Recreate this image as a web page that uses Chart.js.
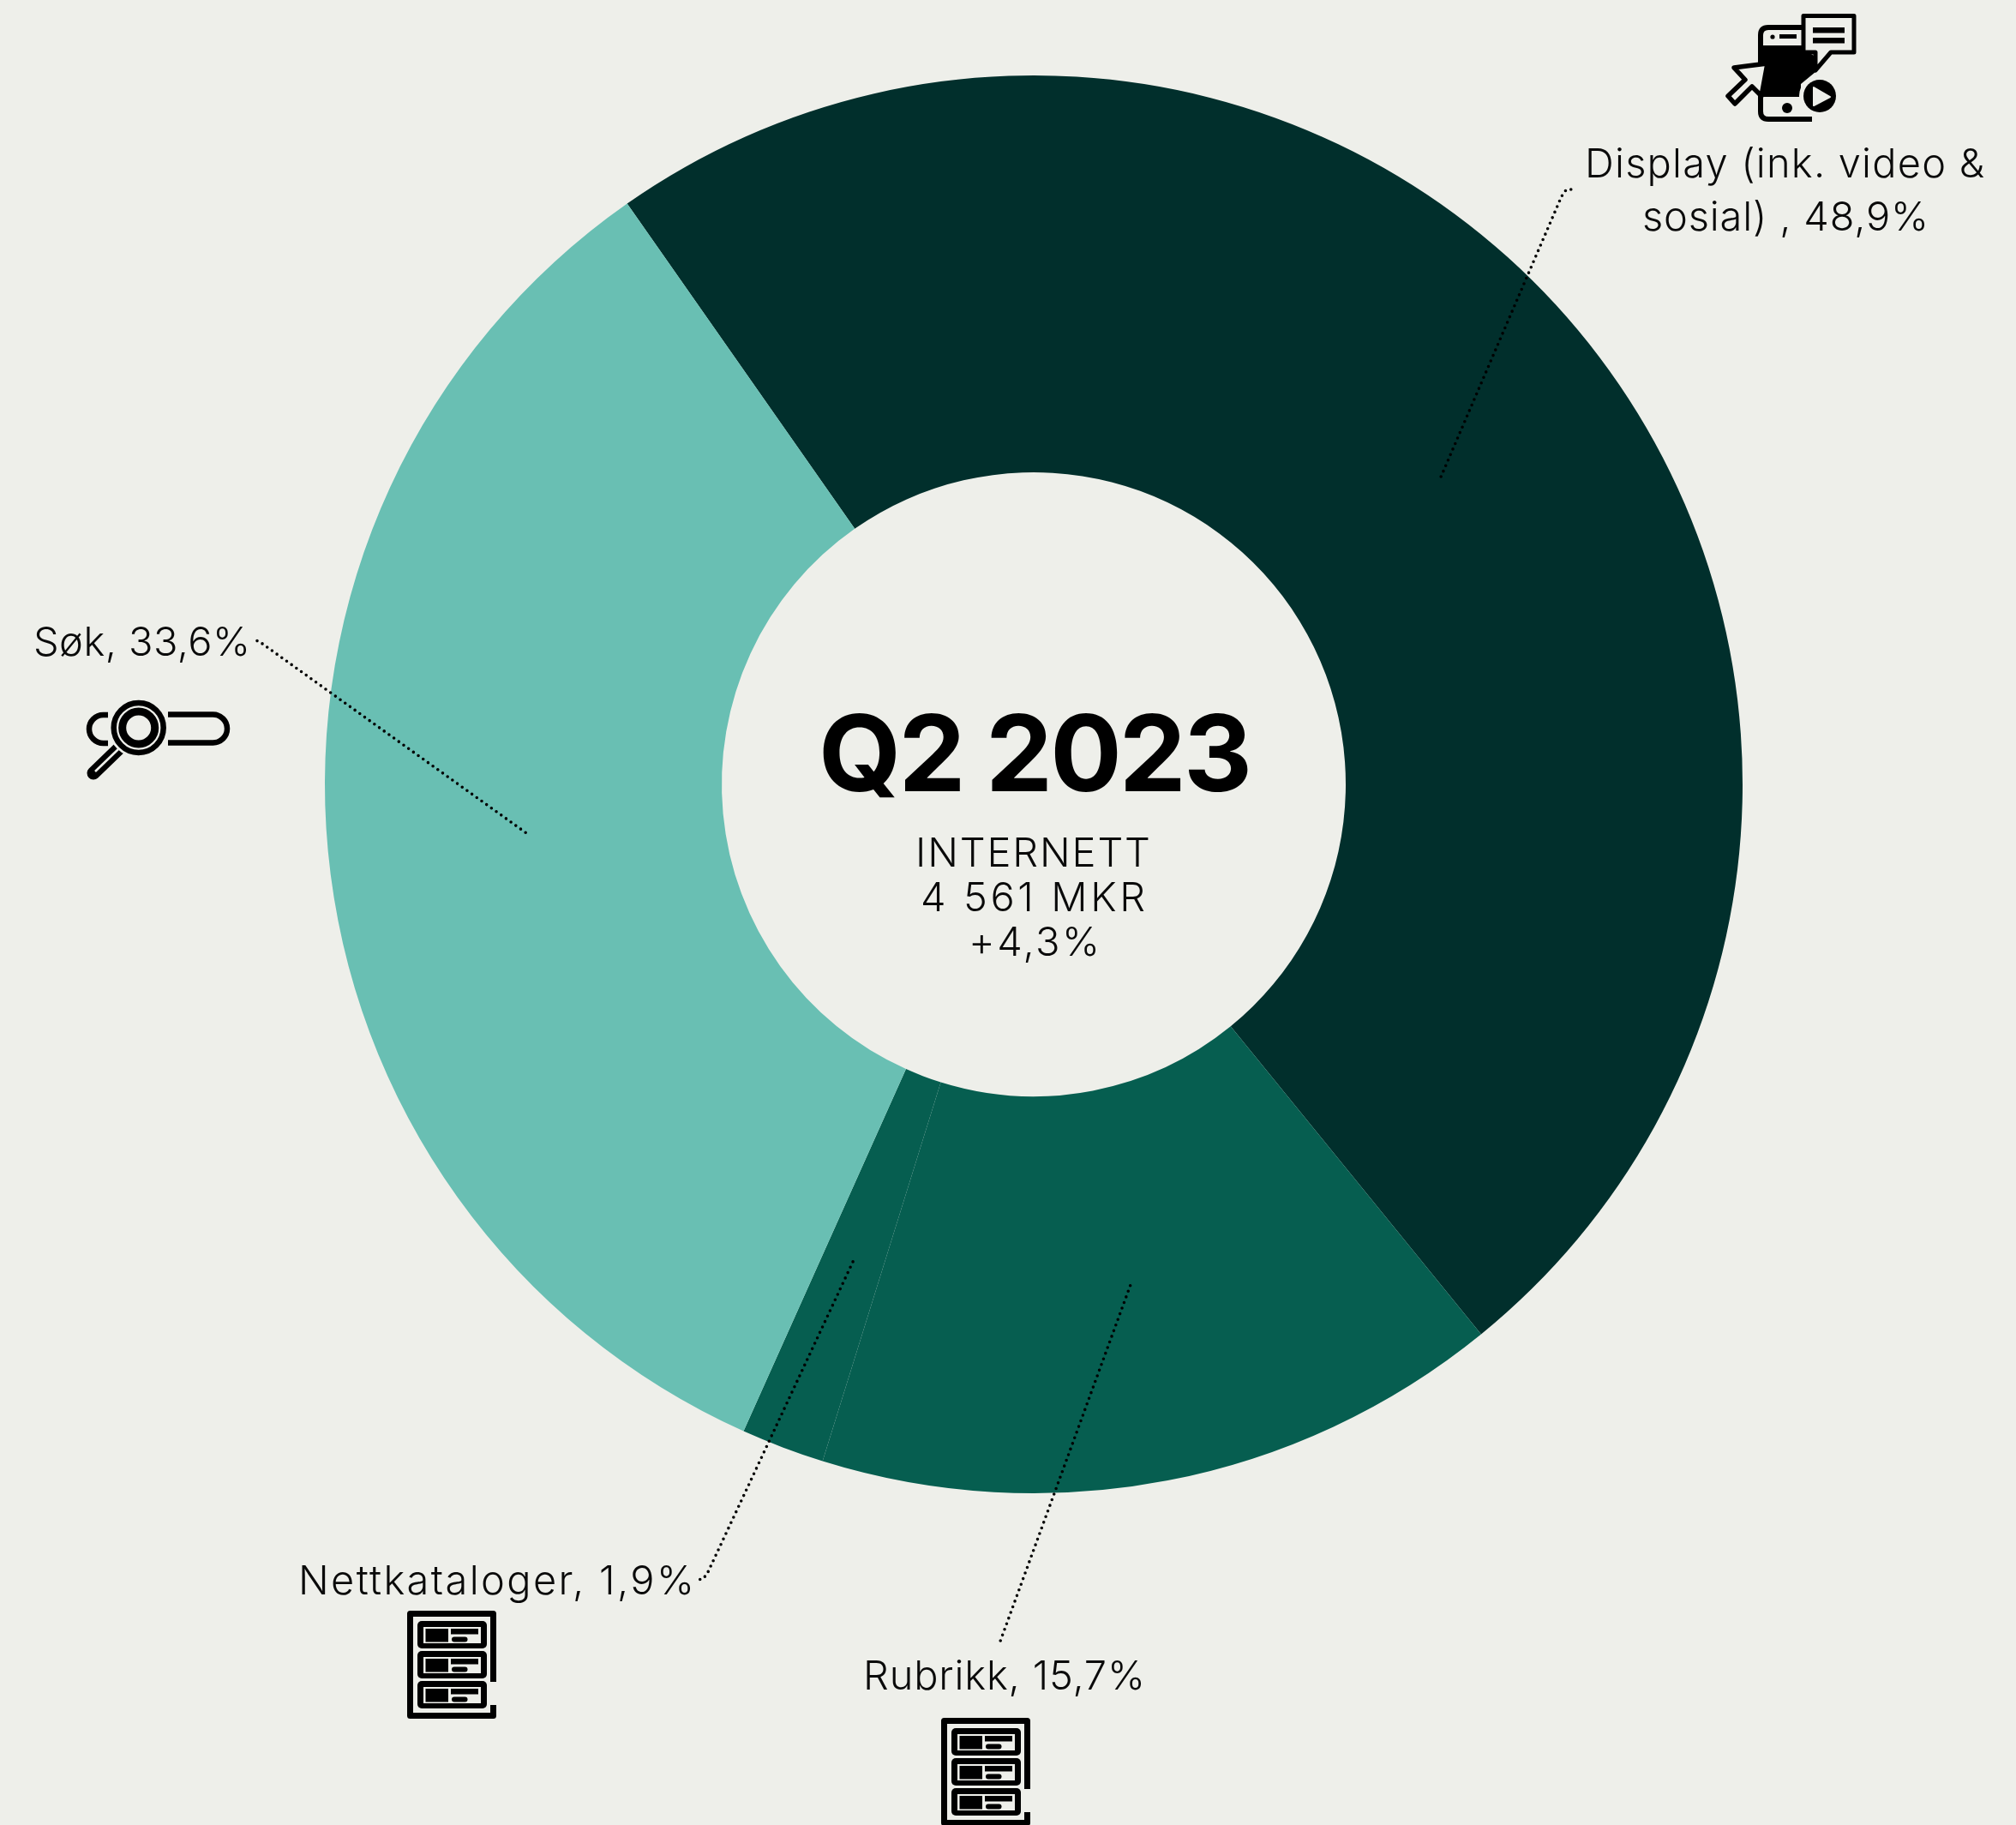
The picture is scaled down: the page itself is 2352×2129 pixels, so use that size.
<!DOCTYPE html>
<html lang="no">
<head>
<meta charset="utf-8">
<title>Q2 2023 Internett</title>
<style>
  html, body { margin: 0; padding: 0; background: #eeefea; overflow: hidden; }
  #wrap { position: relative; width: 2352px; height: 2129px; }
  #chart, #icons { position: absolute; left: 0; top: 0; }
</style>
<script src="https://cdn.jsdelivr.net/npm/chart.js@4"></script>
</head>
<body>
<div id="wrap">
  <canvas id="chart" width="2352" height="2129"></canvas>
  <svg id="icons" width="2352" height="2129" viewBox="0 0 2352 2129">
    <defs>
      <g id="rackRow">
        <rect x="12" y="0" width="81" height="32" rx="5" fill="#000"/>
        <rect x="19" y="7" width="67" height="19" fill="#eeefea"/>
        <rect x="21.5" y="9" width="26.5" height="15.5" fill="#000"/>
        <rect x="51" y="9" width="32" height="6.5" fill="#000"/>
        <rect x="52" y="18.5" width="18.5" height="6" rx="3" fill="#000"/>
      </g>
      <g id="rack">
        <path d="M100.5 83V3.5H3.5V122.5H100.5V110" fill="none" stroke="#000" stroke-width="7" stroke-linejoin="round"/>
        <use href="#rackRow" y="12"/>
        <use href="#rackRow" y="47"/>
        <use href="#rackRow" y="82"/>
      </g>
    </defs>

    <!-- display icon -->
    <g transform="translate(2013 16)">
      <path d="M101 123H50Q41 123 41 114V25Q41 16 50 16H92" fill="none" stroke="#000" stroke-width="6"/>
      <rect x="63" y="24" width="20" height="5" fill="#000"/>
      <circle cx="55" cy="27" r="2.6" fill="#000"/>
      <path d="M39 37H95V44L105 50V68L88 82V97H39Z" fill="#000"/>
      <circle cx="72" cy="110" r="6" fill="#000"/>
      <path d="M91 2.5H150V45H123L105 66V45H91Z" fill="#eeefea" stroke="#000" stroke-width="5" stroke-linejoin="round"/>
      <rect x="102" y="16" width="37" height="6.5" fill="#000"/>
      <rect x="102" y="28" width="37" height="6.5" fill="#000"/>
      <path d="M49 58L10 63L23 77L3 96L11 105L31 85L42 96Z" fill="#eeefea" stroke="#000" stroke-width="5.5" stroke-linejoin="round"/>
      <circle cx="110" cy="96" r="24" fill="#eeefea"/>
      <circle cx="110" cy="96" r="19" fill="#000"/>
      <path d="M103 86L122 97L103 107Z" fill="#eeefea" stroke="#eeefea" stroke-width="2" stroke-linejoin="round"/>
    </g>

    <!-- search icon -->
    <g transform="translate(101 817)">
      <path d="M25 17H19.5A16.5 16.5 0 0 0 19.5 50H25" fill="none" stroke="#000" stroke-width="6.5"/>
      <path d="M95 16.5H147.5A16.5 16.5 0 0 1 147.5 49.5H95" fill="none" stroke="#000" stroke-width="6.5"/>
      <line x1="38" y1="56" x2="8" y2="85" stroke="#000" stroke-width="15" stroke-linecap="round"/>
      <line x1="37" y1="57" x2="10" y2="83" stroke="#eeefea" stroke-width="2.6"/>
      <circle cx="60.7" cy="32" r="35" fill="#eeefea"/>
      <circle cx="60.7" cy="32" r="29" fill="none" stroke="#000" stroke-width="6.5"/>
      <circle cx="60.7" cy="32" r="19" fill="none" stroke="#000" stroke-width="9"/>
    </g>

    <use href="#rack" x="475" y="1879"/>
    <use href="#rack" x="1098" y="2004"/>
  </svg>
</div>

<script>
const categories = ['Display (ink. video & sosial) ', 'Rubrikk', 'Nettkataloger', 'Søk'];
const shares = [48.9, 15.7, 1.9, 33.6];
const sliceColors = ['#012f2c', '#065e50', '#065e50', '#69bfb3'];

const centerTitle = 'Q2 2023';
const centerLines = ['INTERNETT', '4 561 MKR', '+4,3%'];

const FONT = 'Inter, "Liberation Sans", sans-serif';

// left / right edge and baseline of each text line
const centerLayout = [
  { left: 1068, right: 1342, y: 1011 },
  { left: 1074, right: 1336, y: 1063 },
  { left: 1130, right: 1283, y: 1115 }
];

// callout text and the dotted line that runs from the slice to it
const callouts = [
  { lines: [{ left: 1849, right: 2315, y: 207 }, { left: 1916, right: 2250, y: 269 }], leader: [[1821, 231], [1824, 225], [1828, 221], [1835, 221]] },
  { lines: [{ left: 1007, right: 1336, y: 1971 }], leader: [[1165, 1920]] },
  { lines: [{ left: 348, right: 810, y: 1860 }], leader: [[825, 1836], [820, 1842], [813, 1843]] },
  { lines: [{ left: 39, right: 292, y: 765 }], leader: [[302, 748], [297, 747]] }
];

function fmtShare(v){
  return v.toFixed(1).replace('.', ',') + '%';
}

// squeezes or spreads a line so it runs from left to right
function fitText(ctx, text, box){
  ctx.letterSpacing = '0px';
  const w = ctx.measureText(text).width;
  ctx.letterSpacing = ((box.right - box.left - w) / (text.length - 1)) + 'px';
  ctx.fillText(text, box.left, box.y);
  ctx.letterSpacing = '0px';
}

const annotations = {
  id: 'annotations',
  afterDatasetsDraw(chart){
    const ctx = chart.ctx;
    const arcs = chart.getDatasetMeta(0).data;
    ctx.save();

    // leaders start in the middle of each ring slice
    ctx.strokeStyle = '#000';
    ctx.lineWidth = 3.6;
    ctx.lineCap = 'round';
    ctx.setLineDash([0, 7]);
    callouts.forEach((c, i) => {
      const p = arcs[i].getCenterPoint();
      ctx.beginPath();
      ctx.moveTo(p.x, p.y);
      c.leader.forEach(pt => ctx.lineTo(pt[0], pt[1]));
      ctx.stroke();
    });
    ctx.setLineDash([]);

    ctx.fillStyle = '#0a0a0a';
    ctx.textAlign = 'left';
    ctx.textBaseline = 'alphabetic';
    ctx.font = '300 47px ' + FONT;
    callouts.forEach((c, i) => {
      const text = categories[i] + ', ' + fmtShare(shares[i]);
      const rows = text.replace('& ', '&\n').split('\n');
      rows.forEach((r, j) => fitText(ctx, r, c.lines[j]));
    });

    ctx.fillStyle = '#000';
    ctx.font = '700 124px ' + FONT;
    fitText(ctx, centerTitle, { left: 955, right: 1461, y: 923 });

    ctx.fillStyle = '#0a0a0a';
    ctx.font = '300 47px ' + FONT;
    centerLines.forEach((t, i) => fitText(ctx, t, centerLayout[i]));

    ctx.restore();
  }
};

new Chart(document.getElementById('chart'), {
  type: 'doughnut',
  data: {
    labels: categories,
    datasets: [{ data: shares, backgroundColor: sliceColors, borderWidth: 0 }]
  },
  options: {
    responsive: false,
    animation: false,
    rotation: -35,
    cutout: 364,
    layout: { padding: { left: 379, right: 319, top: 88, bottom: 387 } },
    plugins: { legend: { display: false }, tooltip: { enabled: false } }
  },
  plugins: [annotations]
});
</script>
</body>
</html>
